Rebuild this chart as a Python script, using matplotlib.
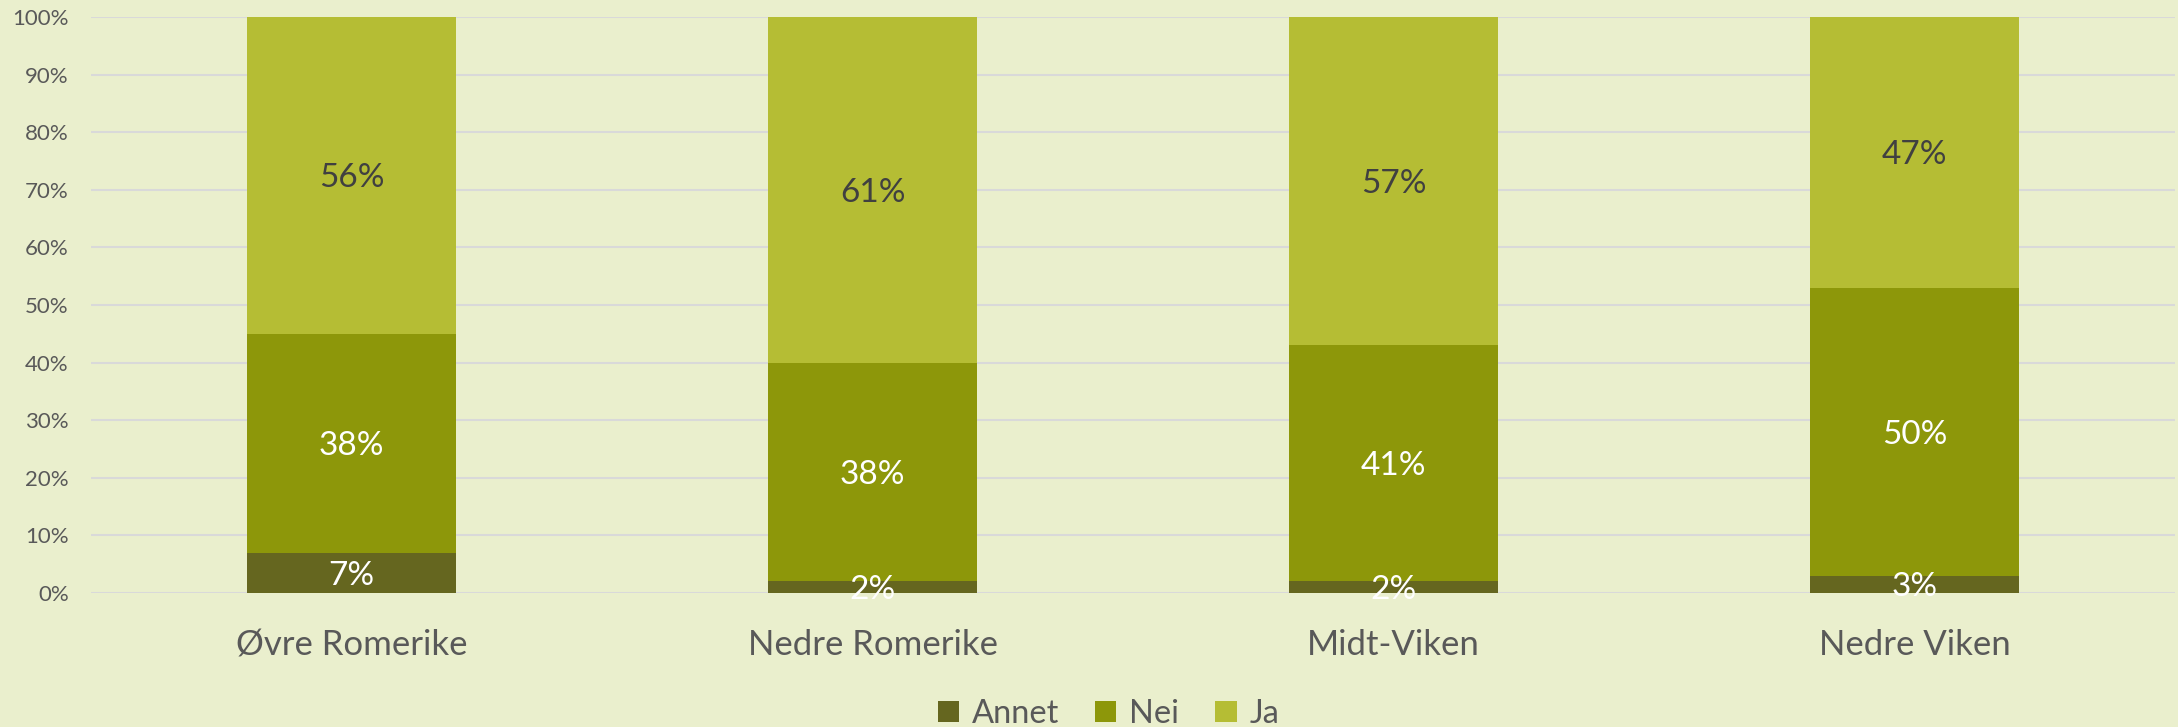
import numpy as np
import matplotlib.pyplot as plt
from matplotlib.ticker import PercentFormatter

# Data (shares)
regions = ["Øvre Romerike", "Nedre Romerike", "Midt-Viken", "Nedre Viken"]
annet = [0.07, 0.02, 0.02, 0.03]
nei = [0.38, 0.38, 0.41, 0.50]
ja = [0.56, 0.61, 0.57, 0.47]

series = [("Annet", annet, "#65661F", "white"),
          ("Nei", nei, "#8D970A", "white"),
          ("Ja", ja, "#B5BD34", "#404040")]

bg = "#EAEFCD"
text_col = "#595959"
plt.rcParams['font.family'] = ['Lato', 'DejaVu Sans']

fig = plt.figure(figsize=(21.78, 7.27), dpi=100, facecolor=bg)
ax = fig.add_axes([91 / 2178, 134 / 727, 2084 / 2178, 576 / 727])
ax.set_facecolor(bg)

x = np.arange(len(regions))
bottom = np.zeros(len(regions))
for name, vals, color, lab_col in series:
    vals = np.array(vals)
    ax.bar(x, vals, width=0.4, bottom=bottom, color=color, label=name, zorder=2)
    # label in the middle of the visible part of each segment
    for xi, b, v in zip(x, bottom, vals):
        top = min(b + v, 1.0)
        ax.text(xi, (b + top) / 2, f"{v * 100:.0f}%", ha='center', va='center_baseline',
                color=lab_col, fontsize=24, zorder=3)
    bottom = bottom + vals

ax.set_ylim(0, 1)
ax.set_xlim(-0.5, len(regions) - 0.5)
ax.set_yticks(np.arange(0, 1.01, 0.1))
ax.yaxis.set_major_formatter(PercentFormatter(1.0, decimals=0))
ax.set_xticks(x)
ax.set_xticklabels(regions)
ax.tick_params(axis='y', length=0, labelsize=16, labelcolor=text_col, pad=16)
ax.tick_params(axis='x', length=0, labelsize=25, labelcolor=text_col, pad=26)
ax.grid(axis='y', color="#D9D9D9", linewidth=1.5, zorder=0)
for s in ax.spines.values():
    s.set_visible(False)

fig.legend(loc='center', bbox_to_anchor=(0.509, 0.018), ncol=3, frameon=False,
           fontsize=23.5, labelcolor=text_col, handlelength=0.65, handleheight=0.65,
           handletextpad=0.4, columnspacing=1.1)

fig.savefig("out.png", dpi=100, facecolor=bg)
